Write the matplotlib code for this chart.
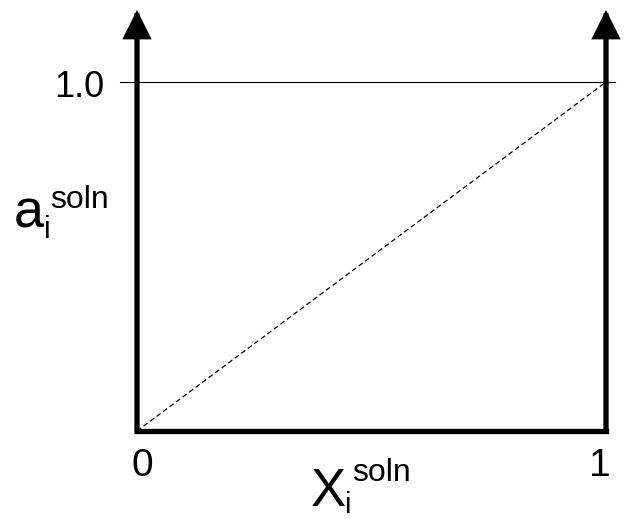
import matplotlib
matplotlib.use("Agg")
import matplotlib.pyplot as plt

plt.rcParams['font.family'] = ['Liberation Sans', 'DejaVu Sans']

# data: ideal solution line a_i = X_i, and the pure-component reference
x_ideal = [0.0, 1.0]
a_ideal = [0.0, 1.0]
ref_level = 1.0
x_ticks = [0, 1]
x_tick_labels = ['0', '1']
y_tick_labels = ['1.0']

W, H = 626, 519
fig = plt.figure(figsize=(W / 100, H / 100), dpi=100)


def fx(px):
    return px / W


def fy(py):
    return 1 - py / H


# axes box: left 137, right 606, bottom 431, top 10 (arrow tips)
left, right, bottom, top = 137, 606, 431, 10
ax = fig.add_axes([fx(left), fy(bottom), fx(right - left), (bottom - top) / H])
ymax = (bottom - top) / (bottom - 82)
ax.set_xlim(0, 1)
ax.set_ylim(0, ymax)
ax.axis('off')

# reference line at a = 1.0, reaching a bit past both axes
ax.plot([-17 / (right - left), 1.02], [ref_level, ref_level], color='black', lw=0.8, clip_on=False)

# ideal (Raoult) dashed line
ax.plot(x_ideal, a_ideal, color='black', lw=0.9, ls=(0, (4, 2.5)), clip_on=False)

# bottom axis
ax.plot([0, 1], [0, 0], color='black', lw=3.8, solid_capstyle='projecting', clip_on=False)

# two vertical axes with arrow heads
for xv in x_ticks:
    ax.annotate('', xy=(xv, ymax), xytext=(xv, 0),
                arrowprops=dict(arrowstyle='-|>,head_length=15,head_width=7.5',
                                mutation_scale=1, lw=3.8, color='black',
                                shrinkA=0, shrinkB=0, capstyle='projecting',
                                joinstyle='miter'),
                annotation_clip=False)

# tick labels
fig.text(fx(142), fy(476), x_tick_labels[0], fontsize=28, ha='center', va='baseline')
fig.text(fx(600), fy(476), x_tick_labels[1], fontsize=28, ha='center', va='baseline')
fig.text(fx(104), fy(97), y_tick_labels[0], fontsize=26, ha='right', va='baseline')

# y label a_i^soln
fig.text(fx(14), fy(227), 'a', fontsize=39, ha='left', va='baseline')
fig.text(fx(44), fy(238), 'i', fontsize=22, ha='left', va='baseline')
fig.text(fx(50), fy(208), 'soln', fontsize=23, ha='left', va='baseline')

# x label X_i^soln
fig.text(fx(311), fy(506), 'X', fontsize=38, ha='left', va='baseline')
fig.text(fx(345), fy(513), 'i', fontsize=21, ha='left', va='baseline')
fig.text(fx(352), fy(481), 'soln', fontsize=23, ha='left', va='baseline')

fig.savefig('out.png', dpi=100, facecolor='white')
